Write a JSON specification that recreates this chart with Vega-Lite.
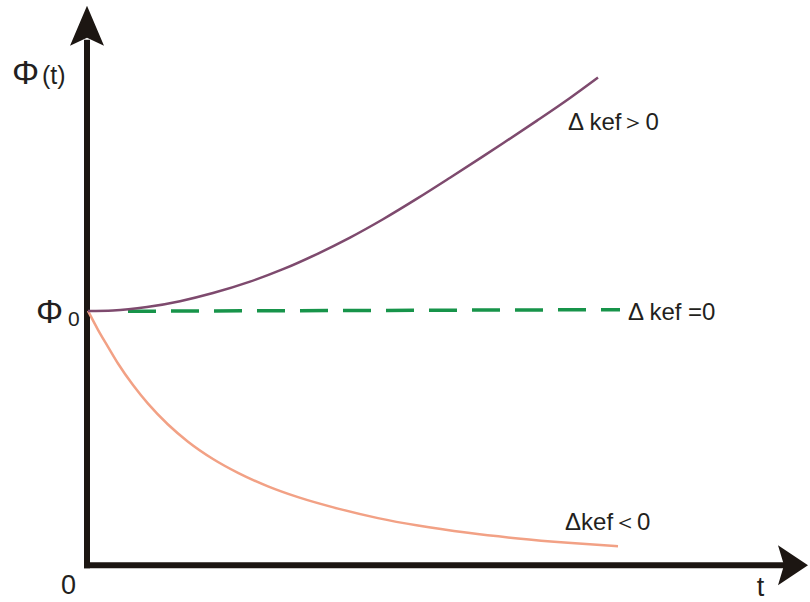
{
  "$schema": "https://vega.github.io/schema/vega-lite/v6.json",
  "width": 810,
  "height": 602,
  "padding": 0,
  "autosize": {"type": "fit", "contains": "padding"},
  "background": "white",
  "config": {"view": {"stroke": null}},
  "datasets": {
    "curves": [
      {"s": "up", "t": 0, "phi": 1.0},
      {"s": "up", "t": 0.25, "phi": 1.002},
      {"s": "up", "t": 0.59, "phi": 1.0152},
      {"s": "up", "t": 0.92, "phi": 1.0383},
      {"s": "up", "t": 1.25, "phi": 1.0703},
      {"s": "up", "t": 1.62, "phi": 1.1152},
      {"s": "up", "t": 1.95, "phi": 1.1641},
      {"s": "up", "t": 2.29, "phi": 1.2238},
      {"s": "up", "t": 2.62, "phi": 1.2883},
      {"s": "up", "t": 2.95, "phi": 1.3605},
      {"s": "up", "t": 3.29, "phi": 1.4414},
      {"s": "up", "t": 3.62, "phi": 1.5238},
      {"s": "up", "t": 3.95, "phi": 1.6078},
      {"s": "up", "t": 4.15, "phi": 1.6594},
      {"s": "up", "t": 4.49, "phi": 1.7484},
      {"s": "up", "t": 4.82, "phi": 1.8375},
      {"s": "up", "t": 5.10, "phi": 1.918},
      {"s": "flat", "t": 0.40, "phi": 0.9988},
      {"s": "flat", "t": 5.32, "phi": 1.0051},
      {"s": "down", "t": 0, "phi": 1.0},
      {"s": "down", "t": 0.1, "phi": 0.9259},
      {"s": "down", "t": 0.2, "phi": 0.8589},
      {"s": "down", "t": 0.3, "phi": 0.7933},
      {"s": "down", "t": 0.45, "phi": 0.7085},
      {"s": "down", "t": 0.6, "phi": 0.6353},
      {"s": "down", "t": 0.8, "phi": 0.5533},
      {"s": "down", "t": 1.0, "phi": 0.4859},
      {"s": "down", "t": 1.25, "phi": 0.4179},
      {"s": "down", "t": 1.5, "phi": 0.3634},
      {"s": "down", "t": 1.8, "phi": 0.3101},
      {"s": "down", "t": 2.1, "phi": 0.2676},
      {"s": "down", "t": 2.5, "phi": 0.2226},
      {"s": "down", "t": 2.9, "phi": 0.1853},
      {"s": "down", "t": 3.3, "phi": 0.1559},
      {"s": "down", "t": 3.8, "phi": 0.1273},
      {"s": "down", "t": 4.3, "phi": 0.1052},
      {"s": "down", "t": 4.8, "phi": 0.088},
      {"s": "down", "t": 5.3, "phi": 0.0744}
    ]
  },
  "encoding": {
    "x": {"field": "t", "type": "quantitative", "scale": {"domain": [-0.88, 7.22], "nice": false, "zero": false}, "axis": null},
    "y": {"field": "phi", "type": "quantitative", "scale": {"domain": [-0.1289, 2.2227], "nice": false, "zero": false}, "axis": null}
  },
  "layer": [
    {
      "data": {"values": [{"t": -0.01, "phi": -0.0117, "phi2": 2.0664}]},
      "mark": {"type": "rule", "color": "#1c1612", "strokeWidth": 6, "strokeCap": "butt"},
      "encoding": {"y2": {"field": "phi2"}}
    },
    {
      "data": {"values": [{"t": -0.04, "t2": 6.97, "phi": 0}]},
      "mark": {"type": "rule", "color": "#1c1612", "strokeWidth": 6, "strokeCap": "butt"},
      "encoding": {"x2": {"field": "t2"}}
    },
    {
      "data": {"values": [{"t": -0.01, "phi": 2.1211}]},
      "mark": {"type": "point", "filled": true, "opacity": 1, "color": "#1c1612", "size": 1600, "shape": "M0,-1L-0.85,1L0,0.6L0.85,1Z"}
    },
    {
      "data": {"values": [{"t": 7.0, "phi": 0}]},
      "mark": {"type": "point", "filled": true, "opacity": 1, "color": "#1c1612", "size": 1600, "shape": "M1,0L-0.5,-1L-0.2,0L-0.5,1Z"}
    },
    {
      "data": {"name": "curves"},
      "transform": [{"filter": "datum.s === 'down'"}],
      "mark": {"type": "line", "color": "#f2a185", "strokeWidth": 2.5, "interpolate": "monotone"}
    },
    {
      "data": {"name": "curves"},
      "transform": [{"filter": "datum.s === 'flat'"}],
      "mark": {"type": "line", "color": "#17944a", "strokeWidth": 3.5, "strokeDash": [28, 15], "strokeCap": "butt"}
    },
    {
      "data": {"name": "curves"},
      "transform": [{"filter": "datum.s === 'up'"}],
      "mark": {"type": "line", "color": "#7e4a6e", "strokeWidth": 2.5, "interpolate": "monotone"}
    },
    {
      "data": {"values": [{"label": "Φ", "t": -0.625, "phi": 1.8906}, {"label": "Φ", "t": -0.385, "phi": 0.9531}]},
      "mark": {"type": "text", "font": "Liberation Sans", "fontSize": 34, "align": "center", "baseline": "alphabetic", "color": "#231f20"},
      "encoding": {"text": {"field": "label"}}
    },
    {
      "data": {"values": [{"label": "(t)", "t": -0.46, "phi": 1.8906}]},
      "mark": {"type": "text", "font": "Liberation Sans", "fontSize": 25, "align": "left", "baseline": "alphabetic", "color": "#231f20"},
      "encoding": {"text": {"field": "label"}}
    },
    {
      "data": {"values": [{"label": "0", "t": -0.20, "phi": 0.9414}]},
      "mark": {"type": "text", "font": "Liberation Sans", "fontSize": 21, "align": "left", "baseline": "alphabetic", "color": "#231f20"},
      "encoding": {"text": {"field": "label"}}
    },
    {
      "data": {"values": [
        {"label": "Δ kef＞0", "t": 4.80, "phi": 1.7109},
        {"label": "Δ kef =0", "t": 5.40, "phi": 0.9648},
        {"label": "Δkef＜0", "t": 4.77, "phi": 0.1367}
      ]},
      "mark": {"type": "text", "font": "Liberation Sans", "fontSize": 24, "align": "left", "baseline": "alphabetic", "color": "#231f20"},
      "encoding": {"text": {"field": "label"}}
    },
    {
      "data": {"values": [
        {"label": "t", "t": 6.725, "phi": -0.1211},
        {"label": "0", "t": -0.195, "phi": -0.1133}
      ]},
      "mark": {"type": "text", "font": "Liberation Sans", "fontSize": 27, "align": "center", "baseline": "alphabetic", "color": "#231f20"},
      "encoding": {"text": {"field": "label"}}
    }
  ]
}
